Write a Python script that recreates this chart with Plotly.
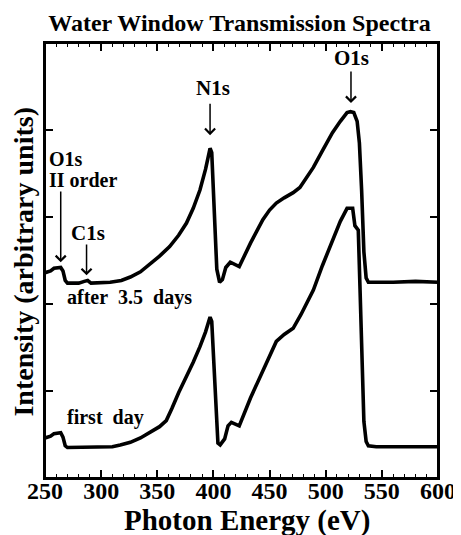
import plotly.graph_objects as go

# ---- data ----
energy_after = [250, 255, 258, 264, 266, 268, 270, 280, 285, 288, 291, 300, 308, 318, 326,
                335, 343, 352, 361, 369, 376, 382, 388, 393, 397, 398.5, 403, 405.5, 408,
                411, 415, 419, 423, 433, 444, 450, 456, 463, 471, 477, 483, 489, 497, 506,
                513, 519, 522, 525, 528, 530, 532, 534, 536, 538, 560, 580, 600]
intensity_after = [2.36, 2.38, 2.41, 2.42, 2.38, 2.27, 2.24, 2.24, 2.26, 2.27, 2.24, 2.24, 2.25,
                   2.27, 2.31, 2.37, 2.45, 2.55, 2.66, 2.79, 2.93, 3.10, 3.31, 3.55, 3.79, 3.74,
                   2.40, 2.25, 2.28, 2.42, 2.48, 2.45, 2.43, 2.70, 2.97, 3.08, 3.16, 3.22, 3.28,
                   3.34, 3.45, 3.57, 3.76, 3.97, 4.10, 4.20, 4.21, 4.20, 4.10, 3.85, 3.30, 2.60,
                   2.30, 2.25, 2.25, 2.26, 2.25]

energy_first = [250, 255, 258, 264, 266, 268, 270, 300, 310, 317, 326, 335, 343, 352, 358,
                361, 363, 369, 376, 382, 388, 393, 397, 398.5, 404, 406, 410, 413, 416, 420,
                423, 433, 444, 450, 456, 463, 471, 478, 483, 489, 497, 506, 513, 519, 524,
                526, 529, 530.5, 532, 534, 536, 538, 545, 575, 578, 600]
intensity_first = [0.46, 0.48, 0.51, 0.52, 0.47, 0.37, 0.35, 0.35, 0.36, 0.38, 0.41, 0.46, 0.52,
                   0.59, 0.66, 0.74, 0.80, 0.98, 1.16, 1.33, 1.51, 1.68, 1.85, 1.80, 0.40, 0.38,
                   0.45, 0.60, 0.64, 0.62, 0.60, 0.92, 1.24, 1.42, 1.57, 1.65, 1.72, 1.88, 2.00,
                   2.16, 2.44, 2.74, 2.95, 3.10, 3.10, 2.90, 2.85, 2.20, 1.40, 0.65, 0.42, 0.37,
                   0.36, 0.36, 0.35, 0.36]

x_ticks = [250, 300, 350, 400, 450, 500, 550, 600]
x_tick_labels = ["250", "300", "350", "400", "450", "500", "550", "600"]
y_ticks = [0, 1, 2, 3, 4, 5]

title_text = "Water Window Transmission Spectra"
x_title = "Photon Energy (eV)"
y_title = "Intensity (arbitrary units)"

# peak labels: (text, text_x, text_y, anchor, arrow_x, arrow_tip_y, arrow_tail_y)
peak_labels = [
    ("N1s", 400, 4.48, "center", 397, 3.94, 4.32),
    ("O1s", 523, 4.83, "center", 522.5, 4.31, 4.69),
    ("C1s", 288, 2.82, "center", 287, 2.33, 2.70),
]
order_label = ["O1s", "II order"]
curve_labels = [("after\u00a0\u00a03.5\u00a0\u00a0days", 267.5, 2.08),
                ("first\u00a0\u00a0day", 267.5, 0.70)]

SERIF = "Liberation Serif"

fig = go.Figure()
fig.add_trace(go.Scatter(x=energy_after, y=intensity_after, mode="lines",
                         line=dict(color="black", width=3.6), showlegend=False))
fig.add_trace(go.Scatter(x=energy_first, y=intensity_first, mode="lines",
                         line=dict(color="black", width=3.6), showlegend=False))

def bold(size):
    return dict(family=SERIF, size=size, color="black", weight="bold")

annotations = []
for text, tx, ty, anchor, axx, tip, tail in peak_labels:
    annotations.append(dict(x=tx, y=ty, text=text, showarrow=False, xanchor=anchor,
                            yanchor="middle", font=bold(21)))
    annotations.append(dict(x=axx, y=tip, ax=axx, ay=tail, axref="x", ayref="y",
                            text="", showarrow=True, arrowhead=4, arrowsize=1.3,
                            arrowwidth=1.5, arrowcolor="black"))
annotations.append(dict(x=252.3, y=3.67, text=order_label[0], showarrow=False,
                        xanchor="left", yanchor="middle", font=bold(20), borderpad=0))
annotations.append(dict(x=252.3, y=3.42, text=order_label[1], showarrow=False,
                        xanchor="left", yanchor="middle", font=bold(20), borderpad=0))
annotations.append(dict(x=264, y=2.48, ax=264, ay=3.31, axref="x", ayref="y",
                        text="", showarrow=True, arrowhead=4, arrowsize=1.3,
                        arrowwidth=1.5, arrowcolor="black"))
for text, tx, ty in curve_labels:
    annotations.append(dict(x=tx, y=ty, text=text, showarrow=False, xanchor="left",
                            yanchor="middle", font=bold(20)))

# axis titles
annotations.append(dict(xref="paper", yref="paper", x=0.513, y=-0.097, text=x_title,
                        showarrow=False, xanchor="center", yanchor="middle", font=bold(29),
                        borderpad=0))
annotations.append(dict(xref="paper", yref="paper", x=-0.054, y=0.497, text=y_title,
                        showarrow=False, xanchor="center", yanchor="middle",
                        textangle=-90, font=bold(28), borderpad=0))

# the page body adds an 8px margin, so the figure is sized/placed to compensate
fig.update_layout(
    width=453, height=527,
    margin=dict(l=37, r=23, t=35, b=57, autoexpand=False),
    plot_bgcolor="white", paper_bgcolor="white",
    showlegend=False,
    title=dict(text=title_text, x=0.511, xanchor="center", y=0.9715, yanchor="middle",
               xref="container", yref="container", font=bold(24)),
    annotations=annotations,
    shapes=[dict(type="rect", xref="paper", yref="paper", x0=0, y0=0, x1=1, y1=1,
                 line=dict(color="black", width=2), fillcolor="rgba(0,0,0,0)",
                 layer="above")],
)
fig.update_xaxes(range=[250, 600], tickmode="array", tickvals=x_ticks, ticktext=x_tick_labels,
                 ticks="inside", ticklen=8, tickwidth=1.5, tickcolor="black",
                 ticklabelstandoff=-10, automargin=False,
                 showline=True, linecolor="black", linewidth=2, mirror="allticks",
                 showgrid=False, zeroline=False, tickfont=bold(24),
                 minor=dict(dtick=10, tick0=250, ticks="inside", ticklen=4, tickwidth=1.2,
                            tickcolor="black", showgrid=False))
fig.update_yaxes(range=[0, 5], tickmode="array", tickvals=y_ticks, showticklabels=False,
                 ticks="inside", ticklen=8, tickwidth=1.5, tickcolor="black",
                 automargin=False,
                 showline=True, linecolor="black", linewidth=2, mirror="allticks",
                 showgrid=False, zeroline=False)

fig.write_html("out.html")
